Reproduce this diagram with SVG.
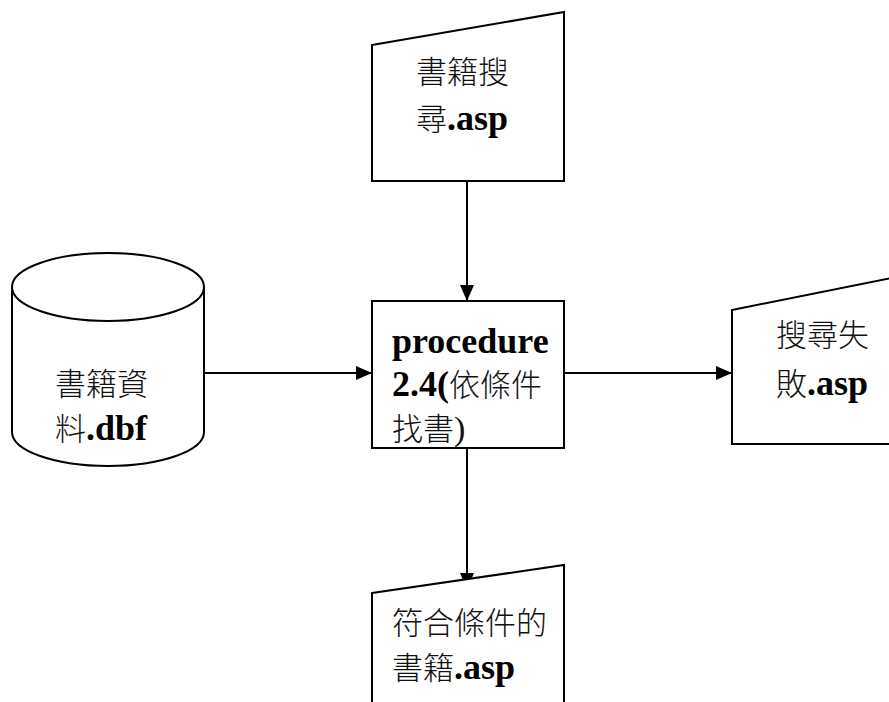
<svg xmlns="http://www.w3.org/2000/svg" width="889" height="702" viewBox="0 0 889 702">
<defs>
<style>
.shape{fill:#fff;stroke:#000;stroke-width:2}
.conn{fill:none;stroke:#000;stroke-width:2}
.zh{font-family:"Noto Sans CJK TC","Noto Sans CJK SC",sans-serif;font-size:31px;font-weight:300;fill:#111}
.en{font-family:"Liberation Serif",serif;font-size:36px;font-weight:bold;fill:#000}
.enr{font-family:"Liberation Serif",serif;font-size:34px;fill:#111}
</style>
<marker id="arr" viewBox="0 0 16 14" refX="16" refY="7" markerWidth="16" markerHeight="14" markerUnits="userSpaceOnUse" orient="auto">
<path d="M0,0 L16,7 L0,14 Z" fill="#000"/>
</marker>
</defs>
<rect width="889" height="702" fill="#fff"/>
<g id="connectors">
<path class="conn" d="M467,181 L467,301" marker-end="url(#arr)"/>
<path class="conn" d="M204,373 L372,373" marker-end="url(#arr)"/>
<path class="conn" d="M564,373 L732,373" marker-end="url(#arr)"/>
<path class="conn" d="M467,448 L467,589" marker-end="url(#arr)"/>
</g>
<g id="search-page">
<polygon class="shape" points="372,45 564,12 564,181 372,181"/>
<text x="416" y="83" class="zh">書籍搜</text>
<text x="416" y="130"><tspan class="zh">尋</tspan><tspan class="en">.asp</tspan></text>
</g>
<g id="book-db">
<path class="shape" d="M12,287 A96,34 0 0,1 204,287 L204,432 A96,34 0 0,1 12,432 Z"/>
<path class="conn" d="M12,287 A96,34 0 0,0 204,287"/>
<text x="55" y="395" class="zh">書籍資</text>
<text x="55" y="440"><tspan class="zh">料</tspan><tspan class="en">.dbf</tspan></text>
</g>
<g id="procedure">
<rect class="shape" x="372" y="301" width="192" height="147"/>
<text x="392" y="353" class="en">procedure</text>
<text x="392" y="396"><tspan class="en">2.4(</tspan><tspan class="zh">依條件</tspan></text>
<text x="392" y="440"><tspan class="zh">找書</tspan><tspan class="enr">)</tspan></text>
</g>
<g id="fail-page">
<polygon class="shape" points="732,310 892,278 892,444 732,444"/>
<text x="776" y="346" class="zh">搜尋失</text>
<text x="776" y="395"><tspan class="zh">敗</tspan><tspan class="en">.asp</tspan></text>
</g>
<g id="result-page">
<polygon class="shape" points="372,593 564,565 564,712 372,712"/>
<text x="392" y="634" class="zh">符合條件的</text>
<text x="392" y="679"><tspan class="zh">書籍</tspan><tspan class="en">.asp</tspan></text>
</g>
</svg>
